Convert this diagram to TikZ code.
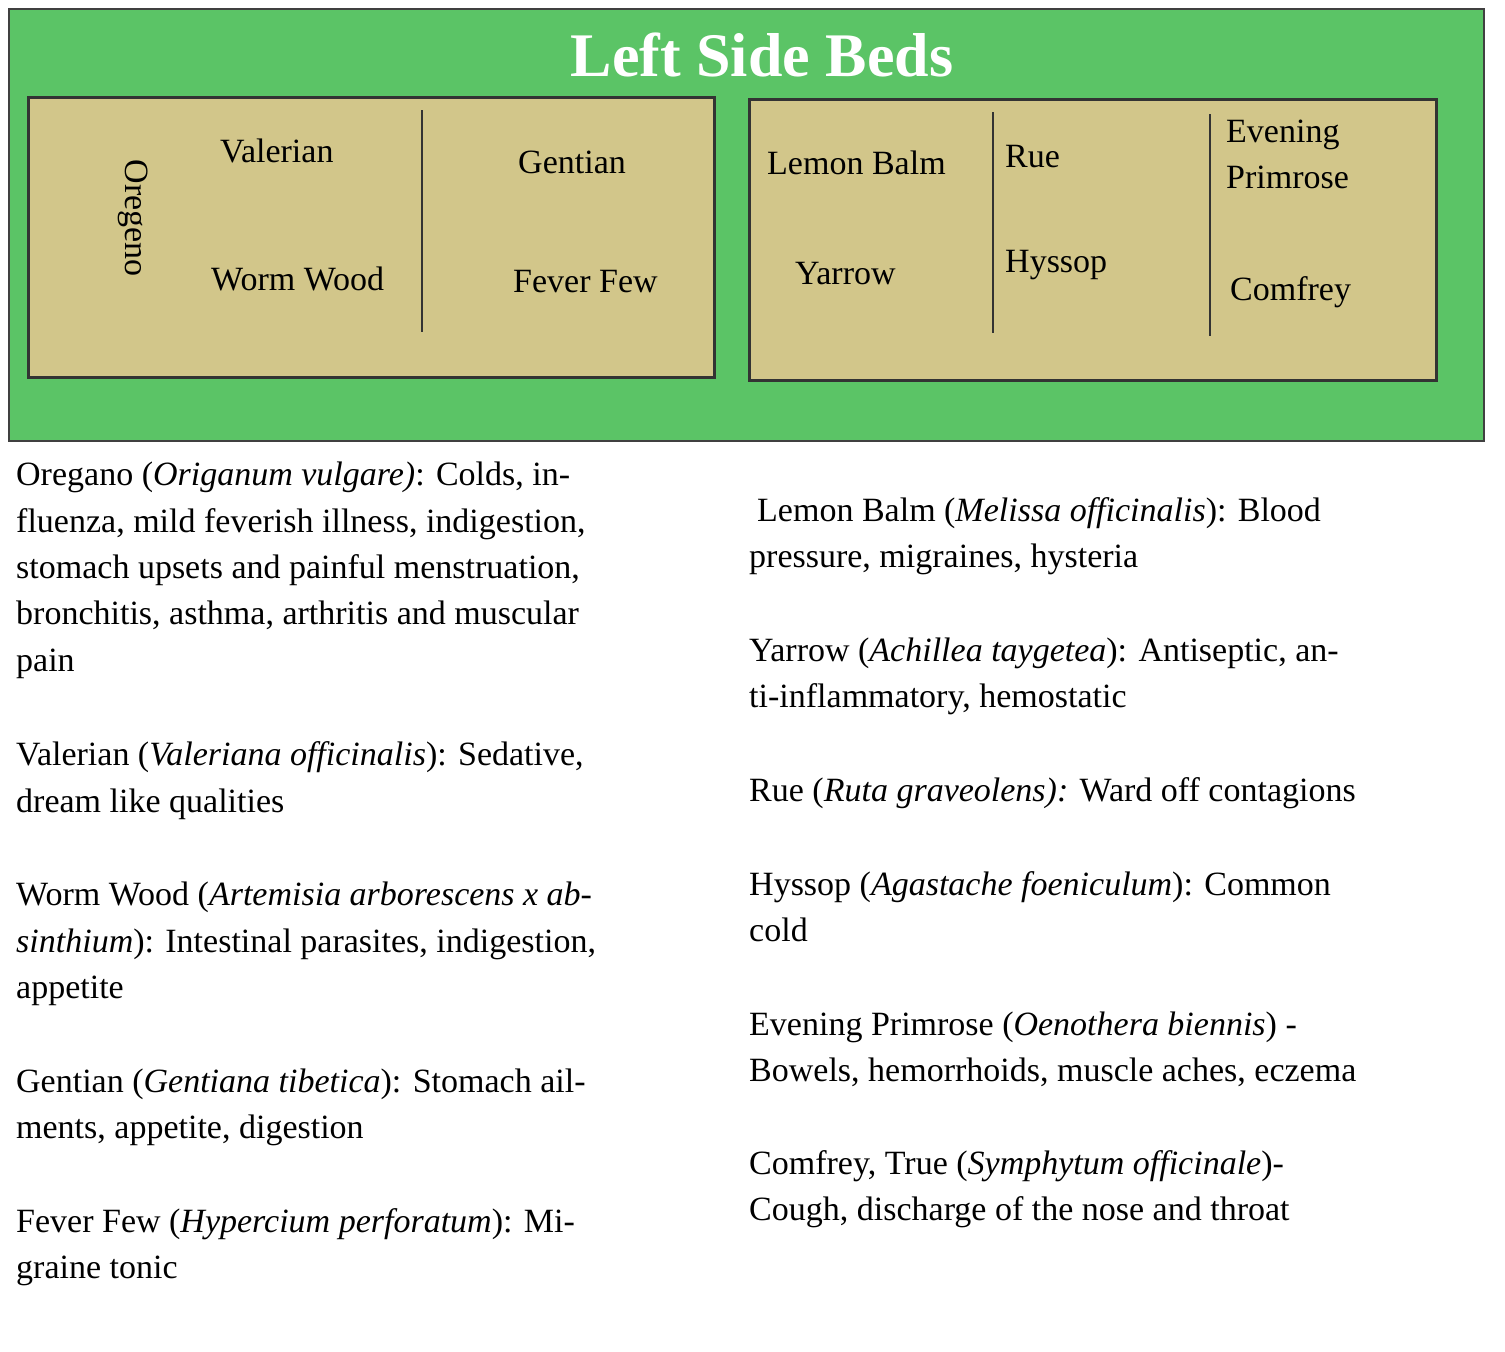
\documentclass[tikz,border=0pt]{standalone}
\usepackage{fontspec}
\setmainfont{Liberation Serif}
\begin{document}
\begin{tikzpicture}[x=1pt,y=-1pt,
  txt/.style={anchor=base west,inner sep=0pt,font=\fontsize{34}{40}\selectfont},
  bed/.style={draw=black!80,line width=2.5pt,fill=bedc},
  div/.style={line width=2.5pt,black!80}]
\definecolor{grn}{HTML}{5BC466}
\definecolor{bedc}{HTML}{D2C68A}
\useasboundingbox (0,0) rectangle (1505,1352);
\fill[white] (0,0) rectangle (1505,1352);
\node[draw=black!75,line width=2pt,fill=grn,minimum width=1475pt,minimum height=432pt,anchor=north west] (garden) at (8,8) {};
\node[font=\fontsize{62}{70}\selectfont\bfseries,text=white,inner sep=0pt] (title) at (762,55) {Left Side Beds};
\node[bed,minimum width=686pt,minimum height=280pt,anchor=north west] (bedL) at (27,96) {};
\node[bed,minimum width=687pt,minimum height=281pt,anchor=north west] (bedR) at (748,98) {};
\coordinate (l1a) at (422,110); \coordinate (l1b) at (422,332);
\coordinate (r1a) at (993,112); \coordinate (r1b) at (993,333);
\coordinate (r2a) at (1210,114); \coordinate (r2b) at (1210,336);
\draw[div] (l1a)--(l1b); \draw[div] (r1a)--(r1b); \draw[div] (r2a)--(r2b);
\node[font=\fontsize{34}{40}\selectfont,rotate=-90,inner sep=0pt] (oreg) at (133,218) {Oregeno};
\node[txt] (v) at (220,162) {Valerian};
\node[txt] (w) at (211,290) {Worm Wood};
\node[txt] (g) at (518,173) {Gentian};
\node[txt] (f) at (513,292) {Fever Few};
\node[txt] (lb) at (767,174) {Lemon Balm};
\node[txt] (y) at (795,284) {Yarrow};
\node[txt] (r) at (1005,167) {Rue};
\node[txt] (h) at (1005,272) {Hyssop};
\node[txt] (e1) at (1226,142) {Evening};
\node[txt] (e2) at (1226,188) {Primrose};
\node[txt] (c) at (1230,300) {Comfrey};
% left column
\node[txt] (a1) at (16,485) {Oregano (\textit{Origanum vulgare)}: Colds, in-};
\node[txt] (a2) at (16,532) {fluenza, mild feverish illness, indigestion,};
\node[txt] (a3) at (16,578) {stomach upsets and painful menstruation,};
\node[txt] (a4) at (16,624) {bronchitis, asthma, arthritis and muscular};
\node[txt] (a5) at (16,671) {pain};
\node[txt] (b1) at (16,765) {Valerian (\textit{Valeriana officinalis}): Sedative,};
\node[txt] (b2) at (16,812) {dream like qualities};
\node[txt] (c1) at (16,905) {Worm Wood (\textit{Artemisia arborescens x ab-}};
\node[txt] (c2) at (16,952) {\textit{sinthium}): Intestinal parasites, indigestion,};
\node[txt] (c3) at (16,998) {appetite};
\node[txt] (d1) at (16,1092) {Gentian (\textit{Gentiana tibetica}): Stomach ail-};
\node[txt] (d2) at (16,1138) {ments, appetite, digestion};
\node[txt] (f1) at (16,1232) {Fever Few (\textit{Hypercium perforatum}): Mi-};
\node[txt] (f2) at (16,1278) {graine tonic};
% right column
\node[txt] (p1) at (757,521) {Lemon Balm (\textit{Melissa officinalis}): Blood};
\node[txt] (p2) at (749,567) {pressure, migraines, hysteria};
\node[txt] (q1) at (749,661) {Yarrow (\textit{Achillea taygetea}): Antiseptic, an-};
\node[txt] (q2) at (749,707) {ti-inflammatory, hemostatic};
\node[txt] (s1) at (749,801) {Rue (\textit{Ruta graveolens): }Ward off contagions};
\node[txt] (t1) at (749,895) {Hyssop (\textit{Agastache foeniculum}): Common};
\node[txt] (t2) at (749,941) {cold};
\node[txt] (u1) at (749,1035) {Evening Primrose (\textit{Oenothera biennis}) -};
\node[txt] (u2) at (749,1081) {Bowels, hemorrhoids, muscle aches, eczema};
\node[txt] (k1) at (749,1174) {Comfrey, True (\textit{Symphytum officinale})-};
\node[txt] (k2) at (749,1220) {Cough, discharge of the nose and throat};
\end{tikzpicture}
\end{document}
